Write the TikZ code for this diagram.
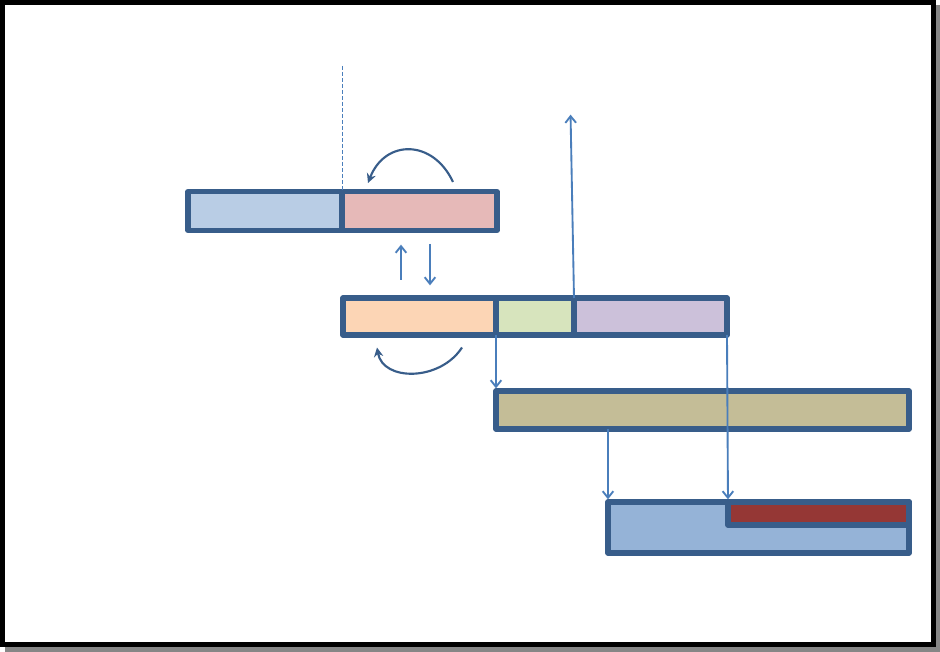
\documentclass[tikz,border=0pt]{standalone}
\usepackage{tikz}
\usetikzlibrary{arrows.meta}

\definecolor{boxline}{HTML}{385D8A}
\definecolor{linkblue}{HTML}{4A7EBB}
\definecolor{cellA}{HTML}{B9CDE5}
\definecolor{cellB}{HTML}{E6B9B8}
\definecolor{cellC}{HTML}{FCD5B5}
\definecolor{cellD}{HTML}{D7E4BD}
\definecolor{cellE}{HTML}{CCC1DA}
\definecolor{cellF}{HTML}{C4BD97}
\definecolor{cellG}{HTML}{95B3D7}
\definecolor{cellH}{HTML}{953735}

\begin{document}
\begin{tikzpicture}[x=0.75pt,y=-0.75pt,
    cell/.style={draw=boxline, line width=4pt, line join=round, inner sep=0pt, outer sep=0pt},
    link/.style={draw=linkblue, line width=1.4pt, -{Straight Barb[length=5pt,width=8pt]}, shorten >=2pt},
    curl/.style={draw=boxline, line width=1.6pt, -{Stealth[length=7pt,width=7pt]}}]
    \useasboundingbox (0,0) rectangle (940,652);
    % Draw the frame with its shadow
    \fill[gray!95] (5,5) rectangle (940,652);
    \draw[line width=3.4pt, fill=white] (2.25,2.25) rectangle (933.75,644.75);

    % Top row
    \node[cell, fill=cellA, minimum width=115.5pt, minimum height=29.25pt] (A1) at (265,211) {};
    \node[cell, fill=cellB, minimum width=116.25pt, minimum height=29.25pt] (A2) at (419.5,211) {};
    % Second row
    \node[cell, fill=cellC, minimum width=114.75pt, minimum height=27.75pt] (B1) at (419.5,316.5) {};
    \node[cell, fill=cellD, minimum width=58.5pt, minimum height=27.75pt] (B2) at (535,316.5) {};
    \node[cell, fill=cellE, minimum width=114.75pt, minimum height=27.75pt] (B3) at (650.5,316.5) {};
    % Third row
    \node[cell, fill=cellF, minimum width=309.75pt, minimum height=28.5pt] (C) at (702.5,410) {};
    % Bottom box with the notch
    \node[cell, fill=cellG, minimum width=225.75pt, minimum height=38.25pt] (D) at (758.5,527.5) {};
    \node[cell, fill=cellH, minimum width=135.75pt, minimum height=17.25pt] (Dr) at (818.5,513.5) {};

    % Free ends
    \coordinate (dtop) at (342,66);
    \coordinate (up1) at (401,280);
    \coordinate (up2) at (401,242);
    \coordinate (dn1) at (430,244);
    \coordinate (dn2) at (430,288);
    \coordinate (far) at (570.5,112);

    % Dashed marker
    \draw[linkblue, line width=0.7pt, dash pattern=on 3pt off 1.5pt] (dtop) -- (A1.north east);

    % Curved arrows
    \draw[curl] ([shift={(33.5,-9.5)}]A2.north) .. controls +(-20,-43) and +(17,-44) .. ([shift={(-51.5,-8.5)}]A2.north);
    \draw[curl] ([shift={(42.5,12.5)}]B1.south) .. controls +(-22,34) and +(6,34) .. ([shift={(-42.5,12.5)}]B1.south);

    % Straight arrows
    \draw[link] (up1) -- (up2);
    \draw[link] (dn1) -- (dn2);
    \draw[link] (B3.north west) -- (far);
    \draw[link] (B1.south east) -- (C.north west);
    \draw[link] (C.south -| D.north west) -- (D.north west);
    \draw[link] (B3.south east) -- (Dr.north west);
\end{tikzpicture}
\end{document}
